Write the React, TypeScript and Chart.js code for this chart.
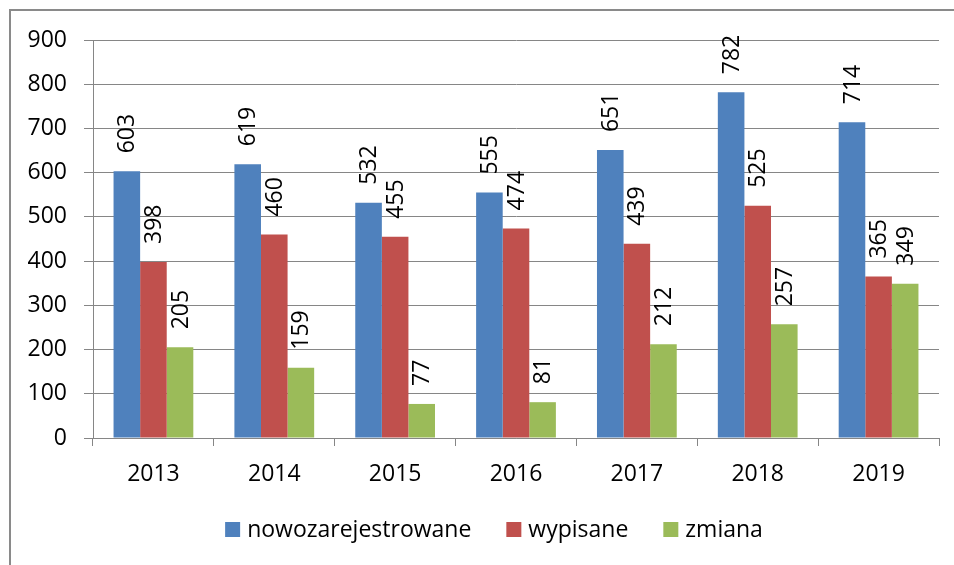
import React, { useEffect, useRef } from "react";
import { Chart, registerables } from "chart.js";

Chart.register(...registerables);

const categories = ["2013", "2014", "2015", "2016", "2017", "2018", "2019"];
const nowozarejestrowane = [603, 619, 532, 555, 651, 782, 714];
const wypisane = [398, 460, 455, 474, 439, 525, 365];
const zmiana = [205, 159, 77, 81, 212, 257, 349];
const seriesNames = ["nowozarejestrowane", "wypisane", "zmiana"];
const seriesColors = ["#4F81BD", "#C0504D", "#9BBB59"];

const FONT = "'Open Sans', Lato, sans-serif";
const FS = 23;
const GRID = "#868686";

const valueLabels = {
  id: "valueLabels",
  afterDatasetsDraw(chart: any) {
    const ctx = chart.ctx;
    ctx.save();
    ctx.fillStyle = "#000";
    ctx.font = `${FS}px ${FONT}`;
    ctx.textAlign = "left";
    ctx.textBaseline = "middle";
    chart.data.datasets.forEach((ds: any, di: number) => {
      const meta = chart.getDatasetMeta(di);
      meta.data.forEach((el: any, i: number) => {
        ctx.save();
        ctx.translate(el.x + 1, el.y - 18);
        ctx.rotate(-Math.PI / 2);
        ctx.fillText(String(ds.data[i]), 0, 0);
        ctx.restore();
      });
    });
    ctx.restore();
  },
};

const customLegend = {
  id: "customLegend",
  afterDraw(chart: any) {
    const ctx = chart.ctx;
    ctx.save();
    ctx.font = `${FS}px ${FONT}`;
    const box = 15;
    const gap = 7;
    const spacing = 35;
    const items = chart.data.datasets.map((ds: any) => ({
      label: ds.label,
      color: ds.backgroundColor,
      w: box + gap + ctx.measureText(ds.label).width,
    }));
    const total = items.reduce((s: number, it: any) => s + it.w, 0) + spacing * (items.length - 1);
    const center = (chart.chartArea.left + chart.chartArea.right) / 2 - 22;
    let x = center - total / 2;
    const yMid = 530;
    items.forEach((it: any) => {
      ctx.fillStyle = it.color;
      ctx.fillRect(x, yMid - 8, box, box);
      ctx.fillStyle = "#000";
      ctx.textAlign = "left";
      ctx.textBaseline = "middle";
      ctx.fillText(it.label, x + box + gap, yMid);
      x += it.w + spacing;
    });
    ctx.restore();
  },
};

export default function App() {
  const ref = useRef<HTMLCanvasElement | null>(null);
  useEffect(() => {
    if (!ref.current) return;
    const chart = new Chart(ref.current, {
      type: "bar",
      data: {
        labels: categories,
        datasets: [nowozarejestrowane, wypisane, zmiana].map((d, i) => ({
          label: seriesNames[i],
          data: d,
          backgroundColor: seriesColors[i],
          borderWidth: 0,
          categoryPercentage: 0.66,
          barPercentage: 1.0,
        })),
      },
      options: {
        animation: false,
        responsive: false,
        maintainAspectRatio: false,
        layout: { padding: { left: 0, right: 15, top: 40, bottom: 0 } },
        plugins: {
          legend: { display: false },
          tooltip: { enabled: false },
        },
        scales: {
          x: {
            offset: true,
            grid: {
              offset: true,
              drawOnChartArea: false,
              drawTicks: true,
              tickLength: 8,
              color: GRID,
            },
            border: { color: GRID },
            ticks: { color: "#000", font: { family: FONT, size: FS }, padding: 15 },
            afterFit: (s: any) => {
              s.height = 127;
            },
          },
          y: {
            min: 0,
            max: 900,
            ticks: {
              stepSize: 100,
              color: "#000",
              font: { family: FONT, size: FS },
              padding: 17,
            },
            grid: { color: GRID, tickLength: 9 },
            border: { color: GRID },
            afterFit: (s: any) => {
              s.width = 93;
            },
          },
        },
      },
      plugins: [valueLabels, customLegend],
    });
    return () => chart.destroy();
  }, []);
  return (
    <div
      style={{
        position: "fixed",
        left: 0,
        top: 0,
        width: 954,
        height: 565,
        overflow: "hidden",
        background: "#fff",
      }}
    >
      <div
        style={{
          position: "absolute",
          left: 9,
          top: 9,
          width: 1000,
          height: 620,
          border: "2px solid #8a8a8a",
          boxSizing: "border-box",
        }}
      />
      <canvas
        ref={ref}
        width={954}
        height={565}
        style={{ position: "absolute", left: 0, top: 0, width: 954, height: 565 }}
      />
    </div>
  );
}
